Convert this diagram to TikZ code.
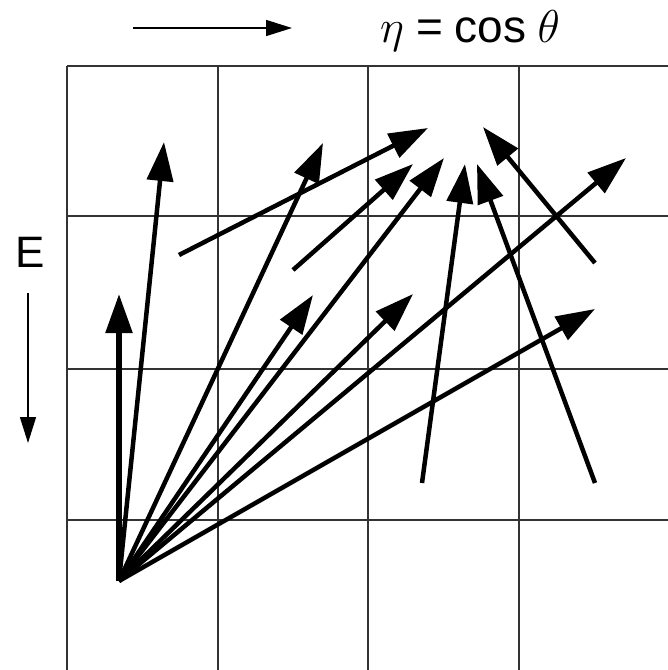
\RequirePackage{fix-cm}
\documentclass[tikz,border=0pt]{standalone}
\usepackage{fontspec}
\setmainfont{Liberation Sans}
\usetikzlibrary{arrows.meta}
\begin{document}
\begin{tikzpicture}[x=1pt,y=-1pt,
  gridline/.style={line width=1.6pt,draw=black!80},
  bigarrow/.style={line width=4.5pt,-{Triangle[length=39pt,width=26pt]}},
  thinarrow/.style={line width=1.5pt,-{Triangle[length=26pt,width=16pt]}},
  lab/.style={inner sep=0pt,anchor=base west,font=\fontsize{44}{48}\selectfont}]
\useasboundingbox (0,0) rectangle (668,670);
% grid
\foreach \x in {67,218,368,519} \draw[gridline] (\x,66) -- (\x,670);
\foreach \y in {66,216,369,520} \draw[gridline] (67,\y) -- (668,\y);
% labels and axis arrows
\node[lab,font=\fontsize{46}{50}\selectfont] (eta) at (380,42) {$\eta$\hspace{12pt}=\hspace{12pt}cos\hspace{11pt}$\theta$};
\coordinate (ha) at (133,28);
\coordinate (hb) at (292,28);
\draw[thinarrow] (ha) -- (hb);
\node[lab] (E) at (15,267) {E};
\coordinate (va) at (28,293);
\coordinate (vb) at (28,443);
\draw[thinarrow] (va) -- (vb);
% origin fan
\coordinate (O) at (119,581);
\coordinate (t1) at (119,294);
\coordinate (t2) at (164,142);
\coordinate (t3) at (323,143);
\coordinate (t4) at (313,295);
\coordinate (t5) at (413,294);
\coordinate (t6) at (444,158);
\coordinate (t7) at (626,158);
\coordinate (t8) at (595,309);
\draw[bigarrow,line width=5.5pt] (O) -- (t1);
\foreach \t in {t2,t3,t4,t5,t6,t7,t8} \draw[bigarrow] (O) -- (\t);
% other arrows
\coordinate (s9) at (179,255);   \coordinate (e9) at (428,128);
\coordinate (s10) at (293,270);  \coordinate (e10) at (413,164);
\coordinate (s11) at (422,483);  \coordinate (e11) at (465,164);
\coordinate (s12) at (595,483);  \coordinate (e12) at (477,164);
\coordinate (s13) at (595,263);  \coordinate (e13) at (483,127);
\foreach \n in {9,10,11,12,13} \draw[bigarrow] (s\n) -- (e\n);
\end{tikzpicture}
\end{document}
